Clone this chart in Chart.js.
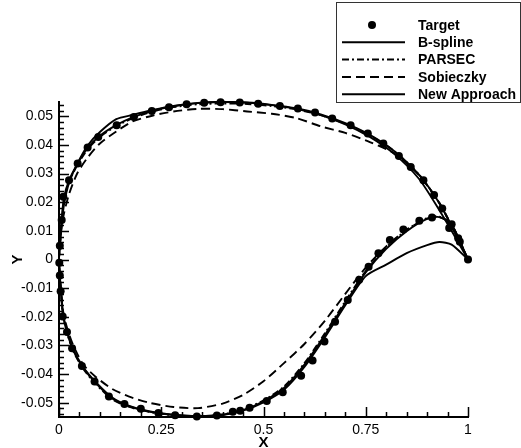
<!DOCTYPE html>
<html>
<head>
<meta charset="utf-8">
<script src="https://cdn.jsdelivr.net/npm/chart.js@4.4.0/dist/chart.umd.min.js"></script>
<style>
  html, body { margin: 0; padding: 0; background: #fff; }
</style>
</head>
<body>
<canvas id="c" width="521" height="448"></canvas>
<script>
// tick labels
const xTicks = [0, 0.25, 0.5, 0.75, 1];
const yTicks = [-0.05, -0.04, -0.03, -0.02, -0.01, 0, 0.01, 0.02, 0.03, 0.04, 0.05];

// target points (dots)
const targetUpperX = [0.002, 0.0066, 0.0105, 0.0245, 0.0456, 0.07, 0.096, 0.141, 0.183, 0.227, 0.269, 0.312, 0.355, 0.395, 0.442, 0.487, 0.54, 0.584, 0.626, 0.668, 0.713, 0.755, 0.793, 0.831, 0.86, 0.891, 0.917, 0.937, 0.96, 0.976, 1.0];
const targetUpperY = [0.0048, 0.0138, 0.0219, 0.0277, 0.0335, 0.0391, 0.0428, 0.0469, 0.0498, 0.0519, 0.0532, 0.0542, 0.0547, 0.0549, 0.0548, 0.0544, 0.0536, 0.0527, 0.0513, 0.0492, 0.0469, 0.044, 0.0405, 0.0361, 0.0323, 0.0277, 0.0225, 0.0178, 0.0123, 0.0074, 0.0];
const targetLowerX = [0.0007, 0.002, 0.004, 0.009, 0.0195, 0.032, 0.056, 0.087, 0.122, 0.16, 0.2, 0.243, 0.284, 0.337, 0.386, 0.425, 0.443, 0.466, 0.508, 0.547, 0.592, 0.62, 0.649, 0.675, 0.706, 0.734, 0.757, 0.781, 0.809, 0.842, 0.881, 0.912, 0.954, 0.98];
const targetLowerY = [-0.0011, -0.0056, -0.0111, -0.0199, -0.0253, -0.031, -0.0372, -0.0426, -0.0478, -0.0505, -0.0521, -0.0536, -0.0544, -0.0548, -0.0545, -0.0532, -0.0528, -0.0518, -0.0494, -0.0464, -0.0406, -0.0353, -0.0286, -0.0217, -0.0141, -0.0071, -0.0025, 0.0022, 0.0068, 0.0105, 0.0135, 0.0147, 0.011, 0.0062];

// stations for the fitted curves
const upperX = [0, 0.002, 0.006, 0.012, 0.025, 0.045, 0.07, 0.1, 0.14, 0.18, 0.23, 0.28, 0.34, 0.4, 0.46, 0.52, 0.58, 0.64, 0.7, 0.76, 0.82, 0.88, 0.93, 0.97, 1];
const lowerX = [0, 0.002, 0.005, 0.01, 0.02, 0.035, 0.06, 0.09, 0.13, 0.17, 0.22, 0.28, 0.34, 0.4, 0.45, 0.5, 0.55, 0.6, 0.65, 0.7, 0.75, 0.8, 0.85, 0.9, 0.93, 0.96, 1];

const bsplineUpper = [0, 0.004, 0.011, 0.019, 0.027, 0.0335, 0.0398, 0.0445, 0.049, 0.0505, 0.0522, 0.0536, 0.0547, 0.0551, 0.0548, 0.0539, 0.0526, 0.0504, 0.0472, 0.0428, 0.0368, 0.0282, 0.0172, 0.0075, 0];
const bsplineLower = [0, -0.006, -0.0115, -0.0195, -0.0255, -0.0318, -0.038, -0.0432, -0.0485, -0.0512, -0.0531, -0.0543, -0.0547, -0.0542, -0.0526, -0.0495, -0.0449, -0.0367, -0.0264, -0.0152, -0.0045, 0.0037, 0.0099, 0.0142, 0.0148, 0.0121, 0];

const parsecUpper = [0, 0.0045, 0.012, 0.02, 0.0272, 0.033, 0.0385, 0.0428, 0.0466, 0.0493, 0.0517, 0.0532, 0.0542, 0.0545, 0.0543, 0.0536, 0.0524, 0.0504, 0.0474, 0.0434, 0.0378, 0.0297, 0.0198, 0.009, 0];
const parsecLower = [0, -0.0062, -0.0118, -0.0198, -0.0258, -0.0321, -0.0383, -0.0435, -0.0488, -0.0514, -0.0532, -0.0544, -0.0548, -0.0541, -0.0524, -0.0492, -0.0444, -0.0362, -0.0258, -0.0146, -0.004, 0.0042, 0.0103, 0.0145, 0.015, 0.0122, 0];

const sobieczkyUpper = [0, 0.005, 0.011, 0.016, 0.023, 0.0302, 0.0356, 0.0405, 0.0447, 0.0482, 0.0503, 0.0517, 0.0526, 0.0525, 0.0517, 0.0509, 0.0494, 0.0465, 0.0442, 0.041, 0.037, 0.0295, 0.0196, 0.0088, 0];
const sobieczkyLower = [0, -0.0058, -0.011, -0.018, -0.024, -0.03, -0.0368, -0.041, -0.0452, -0.0478, -0.05, -0.0515, -0.0519, -0.0503, -0.0473, -0.0425, -0.0362, -0.0295, -0.0214, -0.012, -0.0028, 0.0046, 0.0104, 0.0143, 0.0148, 0.0121, 0];

const newUpper = [0, 0.005, 0.013, 0.0215, 0.0278, 0.0334, 0.039, 0.0432, 0.0469, 0.0496, 0.052, 0.0535, 0.0546, 0.055, 0.0548, 0.054, 0.0528, 0.0507, 0.0476, 0.0435, 0.0378, 0.0296, 0.0196, 0.0088, 0];
const newLower = [0, -0.0058, -0.0112, -0.019, -0.0252, -0.0315, -0.0377, -0.0428, -0.0482, -0.051, -0.053, -0.0542, -0.0547, -0.0543, -0.0528, -0.0499, -0.0455, -0.0375, -0.0272, -0.016, -0.0058, -0.0018, 0.0022, 0.005, 0.0061, 0.0052, 0];

const FONT = "'Liberation Sans', Arial, sans-serif";

// closed contour: trailing edge -> upper -> leading edge -> lower -> trailing edge
function contour(upperY, lowerY) {
  const pts = [];
  for (let i = upperX.length - 1; i >= 0; i--) pts.push({x: upperX[i], y: upperY[i]});
  for (let i = 1; i < lowerX.length; i++) pts.push({x: lowerX[i], y: lowerY[i]});
  return pts;
}

function dots(xs, ys) {
  return xs.map((x, i) => ({x, y: ys[i]}));
}

function curve(label, upperY, lowerY, dash) {
  return {
    label,
    data: contour(upperY, lowerY),
    showLine: true,
    borderColor: '#000',
    borderWidth: 1.9,
    borderDash: dash,
    pointRadius: 0,
    tension: 0.25,
    clip: false,
    order: 1
  };
}

const datasets = [
  {
    label: 'Target',
    data: dots(targetUpperX, targetUpperY).concat(dots(targetLowerX, targetLowerY)),
    showLine: false,
    pointRadius: 4,
    pointBackgroundColor: '#000',
    pointBorderColor: '#000',
    pointBorderWidth: 0,
    clip: false,
    order: 0
  },
  curve('B-spline', bsplineUpper, bsplineLower, []),
  curve('PARSEC', parsecUpper, parsecLower, [7, 3, 2, 3]),
  curve('Sobieczky', sobieczkyUpper, sobieczkyLower, [9, 5]),
  curve('New Approach', newUpper, newLower, [])
];

// inward major/minor ticks like the original plot
const innerTicks = {
  id: 'innerTicks',
  afterDatasetsDraw(chart) {
    const {ctx, chartArea: a, scales: {x, y}} = chart;
    ctx.save();
    ctx.strokeStyle = '#000';
    ctx.lineWidth = 1.5;
    ctx.beginPath();
    for (let k = 0; k <= 20; k++) {
      const px = Math.round(x.getPixelForValue(k * 0.05)) + 0.5;
      const len = k % 5 === 0 ? 10 : 5;
      ctx.moveTo(px, a.bottom);
      ctx.lineTo(px, a.bottom - len);
    }
    for (let k = -27; k <= 27; k++) {
      const py = Math.round(y.getPixelForValue(k * 0.002)) + 0.5;
      const len = k % 5 === 0 ? 10 : 5;
      ctx.moveTo(a.left, py);
      ctx.lineTo(a.left + len, py);
    }
    ctx.stroke();
    ctx.restore();
  }
};

// boxed legend in the top right corner
const boxLegend = {
  id: 'boxLegend',
  afterDraw(chart) {
    const ctx = chart.ctx;
    const left = 336, top = 2, w = 184, h = 100;
    ctx.save();
    ctx.fillStyle = '#fff';
    ctx.fillRect(left, top, w, h);
    ctx.strokeStyle = '#333';
    ctx.lineWidth = 1;
    ctx.strokeRect(left + 0.5, top + 0.5, w, h);

    ctx.font = 'bold 14px ' + FONT;
    ctx.textBaseline = 'middle';
    ctx.textAlign = 'left';
    chart.data.datasets.forEach((ds, i) => {
      const ry = 25 + i * 17.3;
      ctx.strokeStyle = '#000';
      ctx.fillStyle = '#000';
      if (ds.showLine === false) {
        ctx.beginPath();
        ctx.arc(372, ry, 4, 0, Math.PI * 2);
        ctx.fill();
      } else {
        ctx.lineWidth = 2;
        ctx.setLineDash(ds.borderDash || []);
        ctx.beginPath();
        ctx.moveTo(342, ry);
        ctx.lineTo(405, ry);
        ctx.stroke();
        ctx.setLineDash([]);
      }
      ctx.fillText(ds.label, 418, ry + 1);
    });
    ctx.restore();
  }
};

const fmt = v => String(Number(v.toFixed(3)));

new Chart(document.getElementById('c'), {
  type: 'scatter',
  data: {datasets},
  options: {
    responsive: false,
    animation: false,
    devicePixelRatio: 1,
    layout: {padding: {top: 102, right: 53, bottom: 0, left: 0}},
    plugins: {legend: {display: false}, tooltip: {enabled: false}},
    scales: {
      x: {
        type: 'linear',
        min: 0,
        max: 1,
        grid: {drawOnChartArea: false, drawTicks: false},
        border: {display: true, color: '#000', width: 2},
        ticks: {color: '#000', padding: 5, font: {family: FONT, size: 14}, maxRotation: 0, callback: fmt},
        title: {display: true, text: 'X', color: '#000', padding: {top: 0, bottom: 0}, font: {family: FONT, size: 15, weight: 'bold', lineHeight: 0.7}},
        afterBuildTicks(s) { s.ticks = xTicks.map(v => ({value: v})); },
        afterFit(s) { s.height = 31; }
      },
      y: {
        type: 'linear',
        min: -0.055,
        max: 0.055,
        grid: {drawOnChartArea: false, drawTicks: false},
        border: {display: true, color: '#000', width: 2},
        ticks: {color: '#000', padding: 6, font: {family: FONT, size: 14}, callback: fmt},
        title: {display: true, text: 'Y', color: '#000', padding: {top: 10, bottom: 0}, font: {family: FONT, size: 15, weight: 'bold', lineHeight: 1}},
        afterBuildTicks(s) { s.ticks = yTicks.map(v => ({value: v})); },
        afterFit(s) { s.width = 59; }
      }
    }
  },
  plugins: [innerTicks, boxLegend]
});
</script>
</body>
</html>
